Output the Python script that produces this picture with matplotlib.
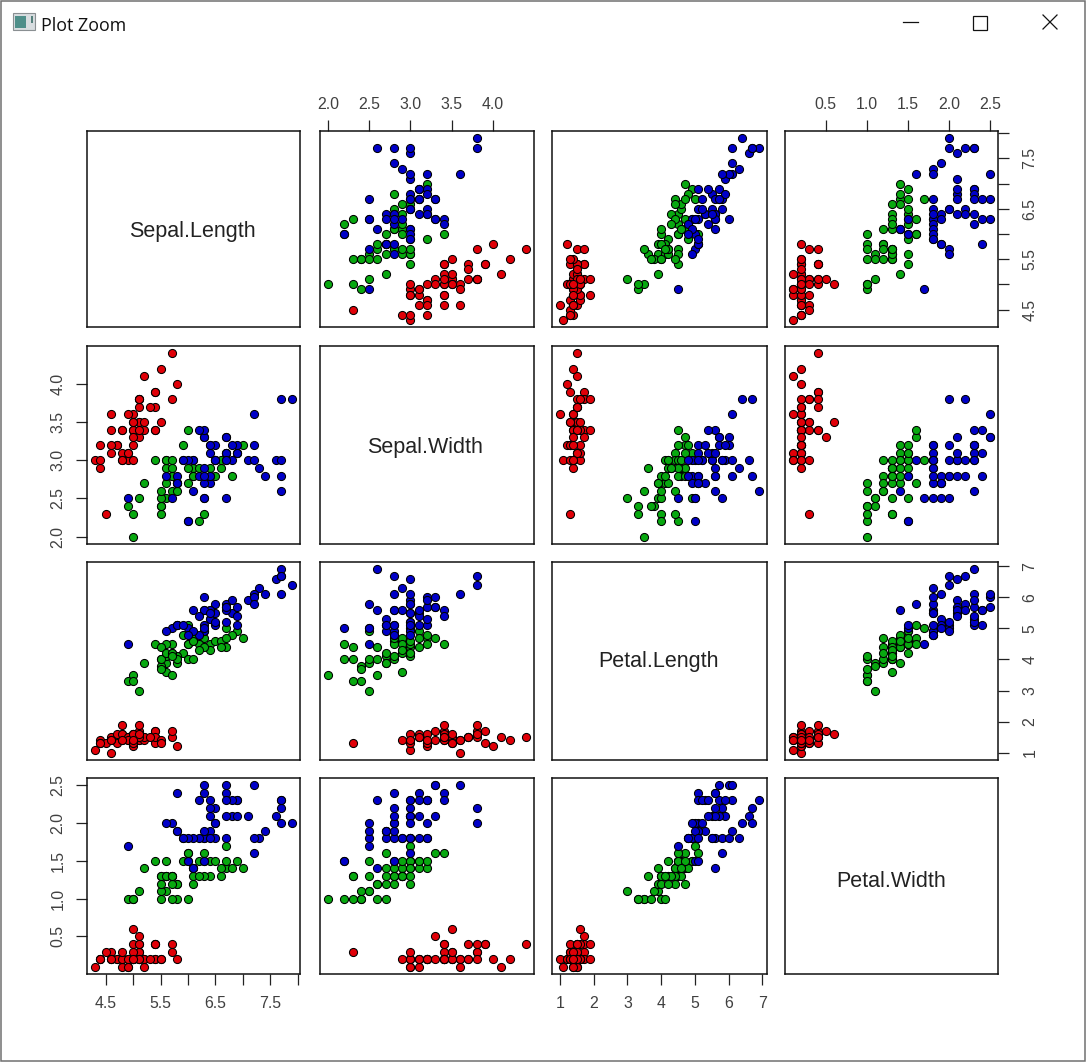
import matplotlib
matplotlib.use("Agg")
import matplotlib.pyplot as plt
from matplotlib.patches import Rectangle
from matplotlib.lines import Line2D
import numpy as np

W, H = 1086, 1062

setosa_sl = [5.1,4.9,4.7,4.6,5.0,5.4,4.6,5.0,4.4,4.9,5.4,4.8,4.8,4.3,5.8,5.7,5.4,5.1,5.7,5.1,5.4,5.1,4.6,5.1,4.8,5.0,5.0,5.2,5.2,4.7,4.8,5.4,5.2,5.5,4.9,5.0,5.5,4.9,4.4,5.1,5.0,4.5,4.4,5.0,5.1,4.8,5.1,4.6,5.3,5.0]
setosa_sw = [3.5,3.0,3.2,3.1,3.6,3.9,3.4,3.4,2.9,3.1,3.7,3.4,3.0,3.0,4.0,4.4,3.9,3.5,3.8,3.8,3.4,3.7,3.6,3.3,3.4,3.0,3.4,3.5,3.4,3.2,3.1,3.4,4.1,4.2,3.1,3.2,3.5,3.6,3.0,3.4,3.5,2.3,3.2,3.5,3.8,3.0,3.8,3.2,3.7,3.3]
setosa_pl = [1.4,1.4,1.3,1.5,1.4,1.7,1.4,1.5,1.4,1.5,1.5,1.6,1.4,1.1,1.2,1.5,1.3,1.4,1.7,1.5,1.7,1.5,1.0,1.7,1.9,1.6,1.6,1.5,1.4,1.6,1.6,1.5,1.5,1.4,1.5,1.2,1.3,1.4,1.3,1.5,1.3,1.3,1.3,1.6,1.9,1.4,1.6,1.4,1.5,1.4]
setosa_pw = [0.2,0.2,0.2,0.2,0.2,0.4,0.3,0.2,0.2,0.1,0.2,0.2,0.1,0.1,0.2,0.4,0.4,0.3,0.3,0.3,0.2,0.4,0.2,0.5,0.2,0.2,0.4,0.2,0.2,0.2,0.2,0.4,0.1,0.2,0.2,0.2,0.2,0.1,0.2,0.2,0.3,0.3,0.2,0.6,0.4,0.3,0.2,0.2,0.2,0.2]

versicolor_sl = [7.0,6.4,6.9,5.5,6.5,5.7,6.3,4.9,6.6,5.2,5.0,5.9,6.0,6.1,5.6,6.7,5.6,5.8,6.2,5.6,5.9,6.1,6.3,6.1,6.4,6.6,6.8,6.7,6.0,5.7,5.5,5.5,5.8,6.0,5.4,6.0,6.7,6.3,5.6,5.5,5.5,6.1,5.8,5.0,5.6,5.7,5.7,6.2,5.1,5.7]
versicolor_sw = [3.2,3.2,3.1,2.3,2.8,2.8,3.3,2.4,2.9,2.7,2.0,3.0,2.2,2.9,2.9,3.1,3.0,2.7,2.2,2.5,3.2,2.8,2.5,2.8,2.9,3.0,2.8,3.0,2.9,2.6,2.4,2.4,2.7,2.7,3.0,3.4,3.1,2.3,3.0,2.5,2.6,3.0,2.6,2.3,2.7,3.0,2.9,2.9,2.5,2.8]
versicolor_pl = [4.7,4.5,4.9,4.0,4.6,4.5,4.7,3.3,4.6,3.9,3.5,4.2,4.0,4.7,3.6,4.4,4.5,4.1,4.5,3.9,4.8,4.0,4.9,4.7,4.3,4.4,4.8,5.0,4.5,3.5,3.8,3.7,3.9,5.1,4.5,4.5,4.7,4.4,4.1,4.0,4.4,4.6,4.0,3.3,4.2,4.2,4.2,4.3,3.0,4.1]
versicolor_pw = [1.4,1.5,1.5,1.3,1.5,1.3,1.6,1.0,1.3,1.4,1.0,1.5,1.0,1.4,1.3,1.4,1.5,1.0,1.5,1.1,1.8,1.3,1.5,1.2,1.3,1.4,1.4,1.7,1.5,1.0,1.1,1.0,1.2,1.6,1.5,1.6,1.5,1.3,1.3,1.3,1.2,1.4,1.2,1.0,1.3,1.2,1.3,1.3,1.1,1.3]

virginica_sl = [6.3,5.8,7.1,6.3,6.5,7.6,4.9,7.3,6.7,7.2,6.5,6.4,6.8,5.7,5.8,6.4,6.5,7.7,7.7,6.0,6.9,5.6,7.7,6.3,6.7,7.2,6.2,6.1,6.4,7.2,7.4,7.9,6.4,6.3,6.1,7.7,6.3,6.4,6.0,6.9,6.7,6.9,5.8,6.8,6.7,6.7,6.3,6.5,6.2,5.9]
virginica_sw = [3.3,2.7,3.0,2.9,3.0,3.0,2.5,2.9,2.5,3.6,3.2,2.7,3.0,2.5,2.8,3.2,3.0,3.8,2.6,2.2,3.2,2.8,2.8,2.7,3.3,3.2,2.8,3.0,2.8,3.0,2.8,3.8,2.8,2.8,2.6,3.0,3.4,3.1,3.0,3.1,3.1,3.1,2.7,3.2,3.3,3.0,2.5,3.0,3.4,3.0]
virginica_pl = [6.0,5.1,5.9,5.6,5.8,6.6,4.5,6.3,5.8,6.1,5.1,5.3,5.5,5.0,5.1,5.3,5.5,6.7,6.9,5.0,5.7,4.9,6.7,4.9,5.7,6.0,4.8,4.9,5.6,5.8,6.1,6.4,5.6,5.1,5.6,6.1,5.6,5.5,4.8,5.4,5.6,5.1,5.1,5.9,5.7,5.2,5.0,5.2,5.4,5.1]
virginica_pw = [2.5,1.9,2.1,1.8,2.2,2.1,1.7,1.8,1.8,2.5,2.0,1.9,2.1,2.0,2.4,2.3,1.8,2.2,2.3,1.5,2.3,2.0,2.0,1.8,2.1,1.8,1.8,1.8,2.1,1.6,1.9,2.0,2.2,1.5,1.4,2.3,2.4,1.8,1.8,2.1,2.4,2.3,1.9,2.3,2.5,2.3,1.9,2.0,2.3,1.8]

names = ["Sepal.Length", "Sepal.Width", "Petal.Length", "Petal.Width"]
species = [
    [setosa_sl, setosa_sw, setosa_pl, setosa_pw],
    [versicolor_sl, versicolor_sw, versicolor_pl, versicolor_pw],
    [virginica_sl, virginica_sw, virginica_pl, virginica_pw],
]
colors = ["#e00008", "#08a810", "#0000c8"]

ticks = [
    [4.5, 5.0, 5.5, 6.0, 6.5, 7.0, 7.5, 8.0],
    [2.0, 2.5, 3.0, 3.5, 4.0],
    [1, 2, 3, 4, 5, 6, 7],
    [0.5, 1.0, 1.5, 2.0, 2.5],
]
tick_labels = [
    ["4.5", "", "5.5", "", "6.5", "", "7.5", ""],
    ["2.0", "2.5", "3.0", "3.5", "4.0"],
    ["1", "2", "3", "4", "5", "6", "7"],
    ["0.5", "1.0", "1.5", "2.0", "2.5"],
]

# panel edges in pixels
col_edges = [(87, 300), (320, 534), (552, 767), (785, 998)]
row_edges = [(131, 327), (346, 544), (562, 760), (778, 974)]
# diagonal labels, pixels (centre x, baseline y)
name_x = [192, 425, 659, 891]
name_y = [237.3, 453.3, 667.3, 887]

plt.rcParams["font.family"] = ["Liberation Sans", "DejaVu Sans"]
fig = plt.figure(figsize=(W / 100, H / 100), dpi=100, facecolor="white")

limits = []
for v in range(4):
    vals = np.concatenate([s[v] for s in species])
    pad = (vals.max() - vals.min()) * 0.04
    limits.append((vals.min() - pad, vals.max() + pad))

for r in range(4):
    for c in range(4):
        x0, x1 = col_edges[c]
        y0, y1 = row_edges[r]
        ax = fig.add_axes([x0 / W, 1 - y1 / H, (x1 - x0) / W, (y1 - y0) / H])
        ax.set_xlim(limits[c])
        ax.set_ylim(limits[r])
        for sp in ax.spines.values():
            sp.set_linewidth(1.1)
            sp.set_color("#111111")

        if r != c:
            for s, col in zip(species, colors):
                ax.scatter(s[c], s[r], s=34, c=col, edgecolors="black",
                           linewidths=0.75, zorder=3, clip_on=False)

        ax.set_xticks([])
        ax.set_yticks([])
        x_pad, y_pad = 8, 7.6
        if r == 3 and c % 2 == 0:
            ax.set_xticks(ticks[c], tick_labels[c])
            ax.xaxis.tick_bottom()
        if r == 0 and c % 2 == 1:
            ax.set_xticks(ticks[c], tick_labels[c])
            ax.xaxis.tick_top()
            x_pad = 6
        if c == 0 and r % 2 == 1:
            ax.set_yticks(ticks[r], tick_labels[r])
            ax.yaxis.tick_left()
        if c == 3 and r % 2 == 0:
            ax.set_yticks(ticks[r], tick_labels[r])
            ax.yaxis.tick_right()
            y_pad = 9.7
        ax.tick_params(axis="x", pad=x_pad)
        ax.tick_params(axis="y", pad=y_pad)
        ax.tick_params(axis="both", length=8, width=0.9, labelsize=11.4,
                       labelcolor="#404040", color="#222222")
        for lab in ax.get_yticklabels():
            lab.set_rotation(90)
            lab.set_verticalalignment("center")

# window frame, title bar
chrome = fig.add_axes([0, 0, 1, 1], zorder=10)
chrome.set_xlim(0, W)
chrome.set_ylim(H, 0)
chrome.axis("off")
chrome.patch.set_alpha(0)

for name, nx, ny in zip(names, name_x, name_y):
    chrome.text(nx, ny, name, ha="center", va="baseline", fontsize=15.5, color="#222222")

chrome.add_patch(Rectangle((0.5, 0.5), W - 1.5, H - 1.5, fill=False, ec="#707070", lw=1.1))
chrome.text(41, 26, "Plot Zoom", family="Open Sans", fontsize=12.9, color="#111111",
            ha="left", va="center")

# app icon
chrome.add_patch(Rectangle((12.5, 13), 22, 17, fc="#d8dde0", ec="#8a8f92", lw=0.8))
chrome.add_patch(Rectangle((15, 16), 11, 12, fc="#4f8f8a", ec="none"))
chrome.add_patch(Rectangle((31, 16), 1.5, 7, fc="#55807c", ec="none"))

# window buttons
chrome.add_line(Line2D([903, 918], [22, 22], color="#111111", lw=0.9))
chrome.add_patch(Rectangle((972.5, 15.5), 14, 14, fill=False, ec="#111111", lw=0.9))
chrome.add_line(Line2D([1043, 1057], [15, 29], color="#111111", lw=0.9))
chrome.add_line(Line2D([1043, 1057], [29, 15], color="#111111", lw=0.9))

fig.savefig("out.png", dpi=100)
